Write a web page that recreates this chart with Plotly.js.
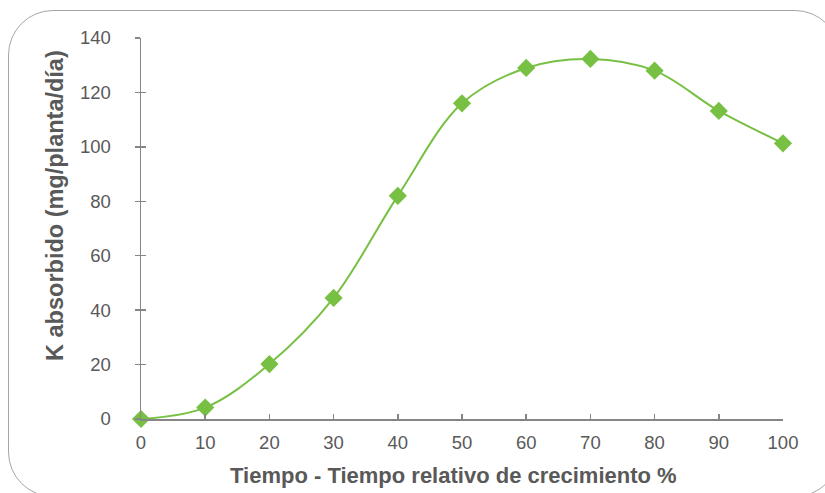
<!DOCTYPE html>
<html>
<head>
<meta charset="utf-8">
<script src="https://cdn.plot.ly/plotly-3.0.1.min.js"></script>
<style>
  html, body { margin: 0; padding: 0; width: 825px; height: 493px; overflow: hidden; background: #fff; }
  #frame { position: absolute; left: 8px; top: 10px; width: 832px; height: 487px; border: 1px solid #a6a6a6; border-radius: 45px; box-sizing: border-box; pointer-events: none; z-index: 2; }
  #chart { position: absolute; left: 0; top: 0; width: 825px; height: 493px; }
</style>
</head>
<body>
<div id="chart"></div>
<div id="frame"></div>
<script>
const tiempo = [0, 10, 20, 30, 40, 50, 60, 70, 80, 90, 100];
const kAbsorbido = [0, 4.2, 20.2, 44.5, 82, 116, 129, 132.3, 128, 113.2, 101.3];
const yTicks = [0, 20, 40, 60, 80, 100, 120, 140];
const xTitle = 'Tiempo - Tiempo relativo de crecimiento %';
const yTitle = 'K absorbido (mg/planta/día)';

const green = '#78c043';
const axisColor = '#868686';
const textColor = '#595959';
const font = 'Arial, "Liberation Sans", sans-serif';

const trace = {
  x: tiempo, y: kAbsorbido,
  type: 'scatter', mode: 'lines+markers', cliponaxis: false,
  line: { color: green, width: 2, shape: 'spline', smoothing: 1 },
  marker: { symbol: 'diamond', size: 14, color: green },
  hoverinfo: 'none', showlegend: false
};
const dummy = { x: [0], y: [0], yaxis: 'y2', mode: 'markers', marker: { opacity: 0 }, showlegend: false, hoverinfo: 'none' };

const layout = {
  width: 825, height: 493,
  margin: { l: 141, r: 42, t: 38, b: 74 },
  paper_bgcolor: '#ffffff', plot_bgcolor: '#ffffff',
  font: { family: font, color: textColor, size: 18.5 },
  xaxis: {
    range: [0, 100], tickvals: tiempo, ticktext: tiempo.map(String),
    showgrid: false, zeroline: false, showline: true, linecolor: axisColor, linewidth: 1.5,
    ticks: 'inside', ticklen: 5, tickcolor: axisColor, tickwidth: 1.5,
    tickfont: { size: 18.5, color: textColor }, ticklabelstandoff: 6
  },
  yaxis: {
    range: [0, 140], tickvals: yTicks,
    showgrid: false, zeroline: false, showline: true, linecolor: axisColor, linewidth: 1.5,
    ticks: 'outside', ticklen: 5, tickcolor: axisColor, tickwidth: 1.5,
    tickfont: { size: 18.5, color: textColor }, ticklabelstandoff: 20
  },
  yaxis2: {
    overlaying: 'y', range: [0, 140], tickvals: yTicks,
    showgrid: false, zeroline: false, showline: false, showticklabels: false,
    ticks: 'inside', ticklen: 5, tickcolor: axisColor, tickwidth: 1.5
  },
  annotations: [
    { text: '<b>' + xTitle + '</b>', xref: 'paper', yref: 'paper', x: 0.4875, y: -0.147,
      xanchor: 'center', yanchor: 'middle', showarrow: false,
      font: { size: 22, color: textColor, family: font } },
    { text: '<b>' + yTitle + '</b>', xref: 'paper', yref: 'paper', x: -0.134, y: 0.5617,
      xanchor: 'center', yanchor: 'middle', showarrow: false, textangle: -90,
      font: { size: 23.5, color: textColor, family: font } }
  ]
};

Plotly.newPlot('chart', [dummy, trace], layout, { staticPlot: true, displayModeBar: false });
</script>
</body>
</html>
